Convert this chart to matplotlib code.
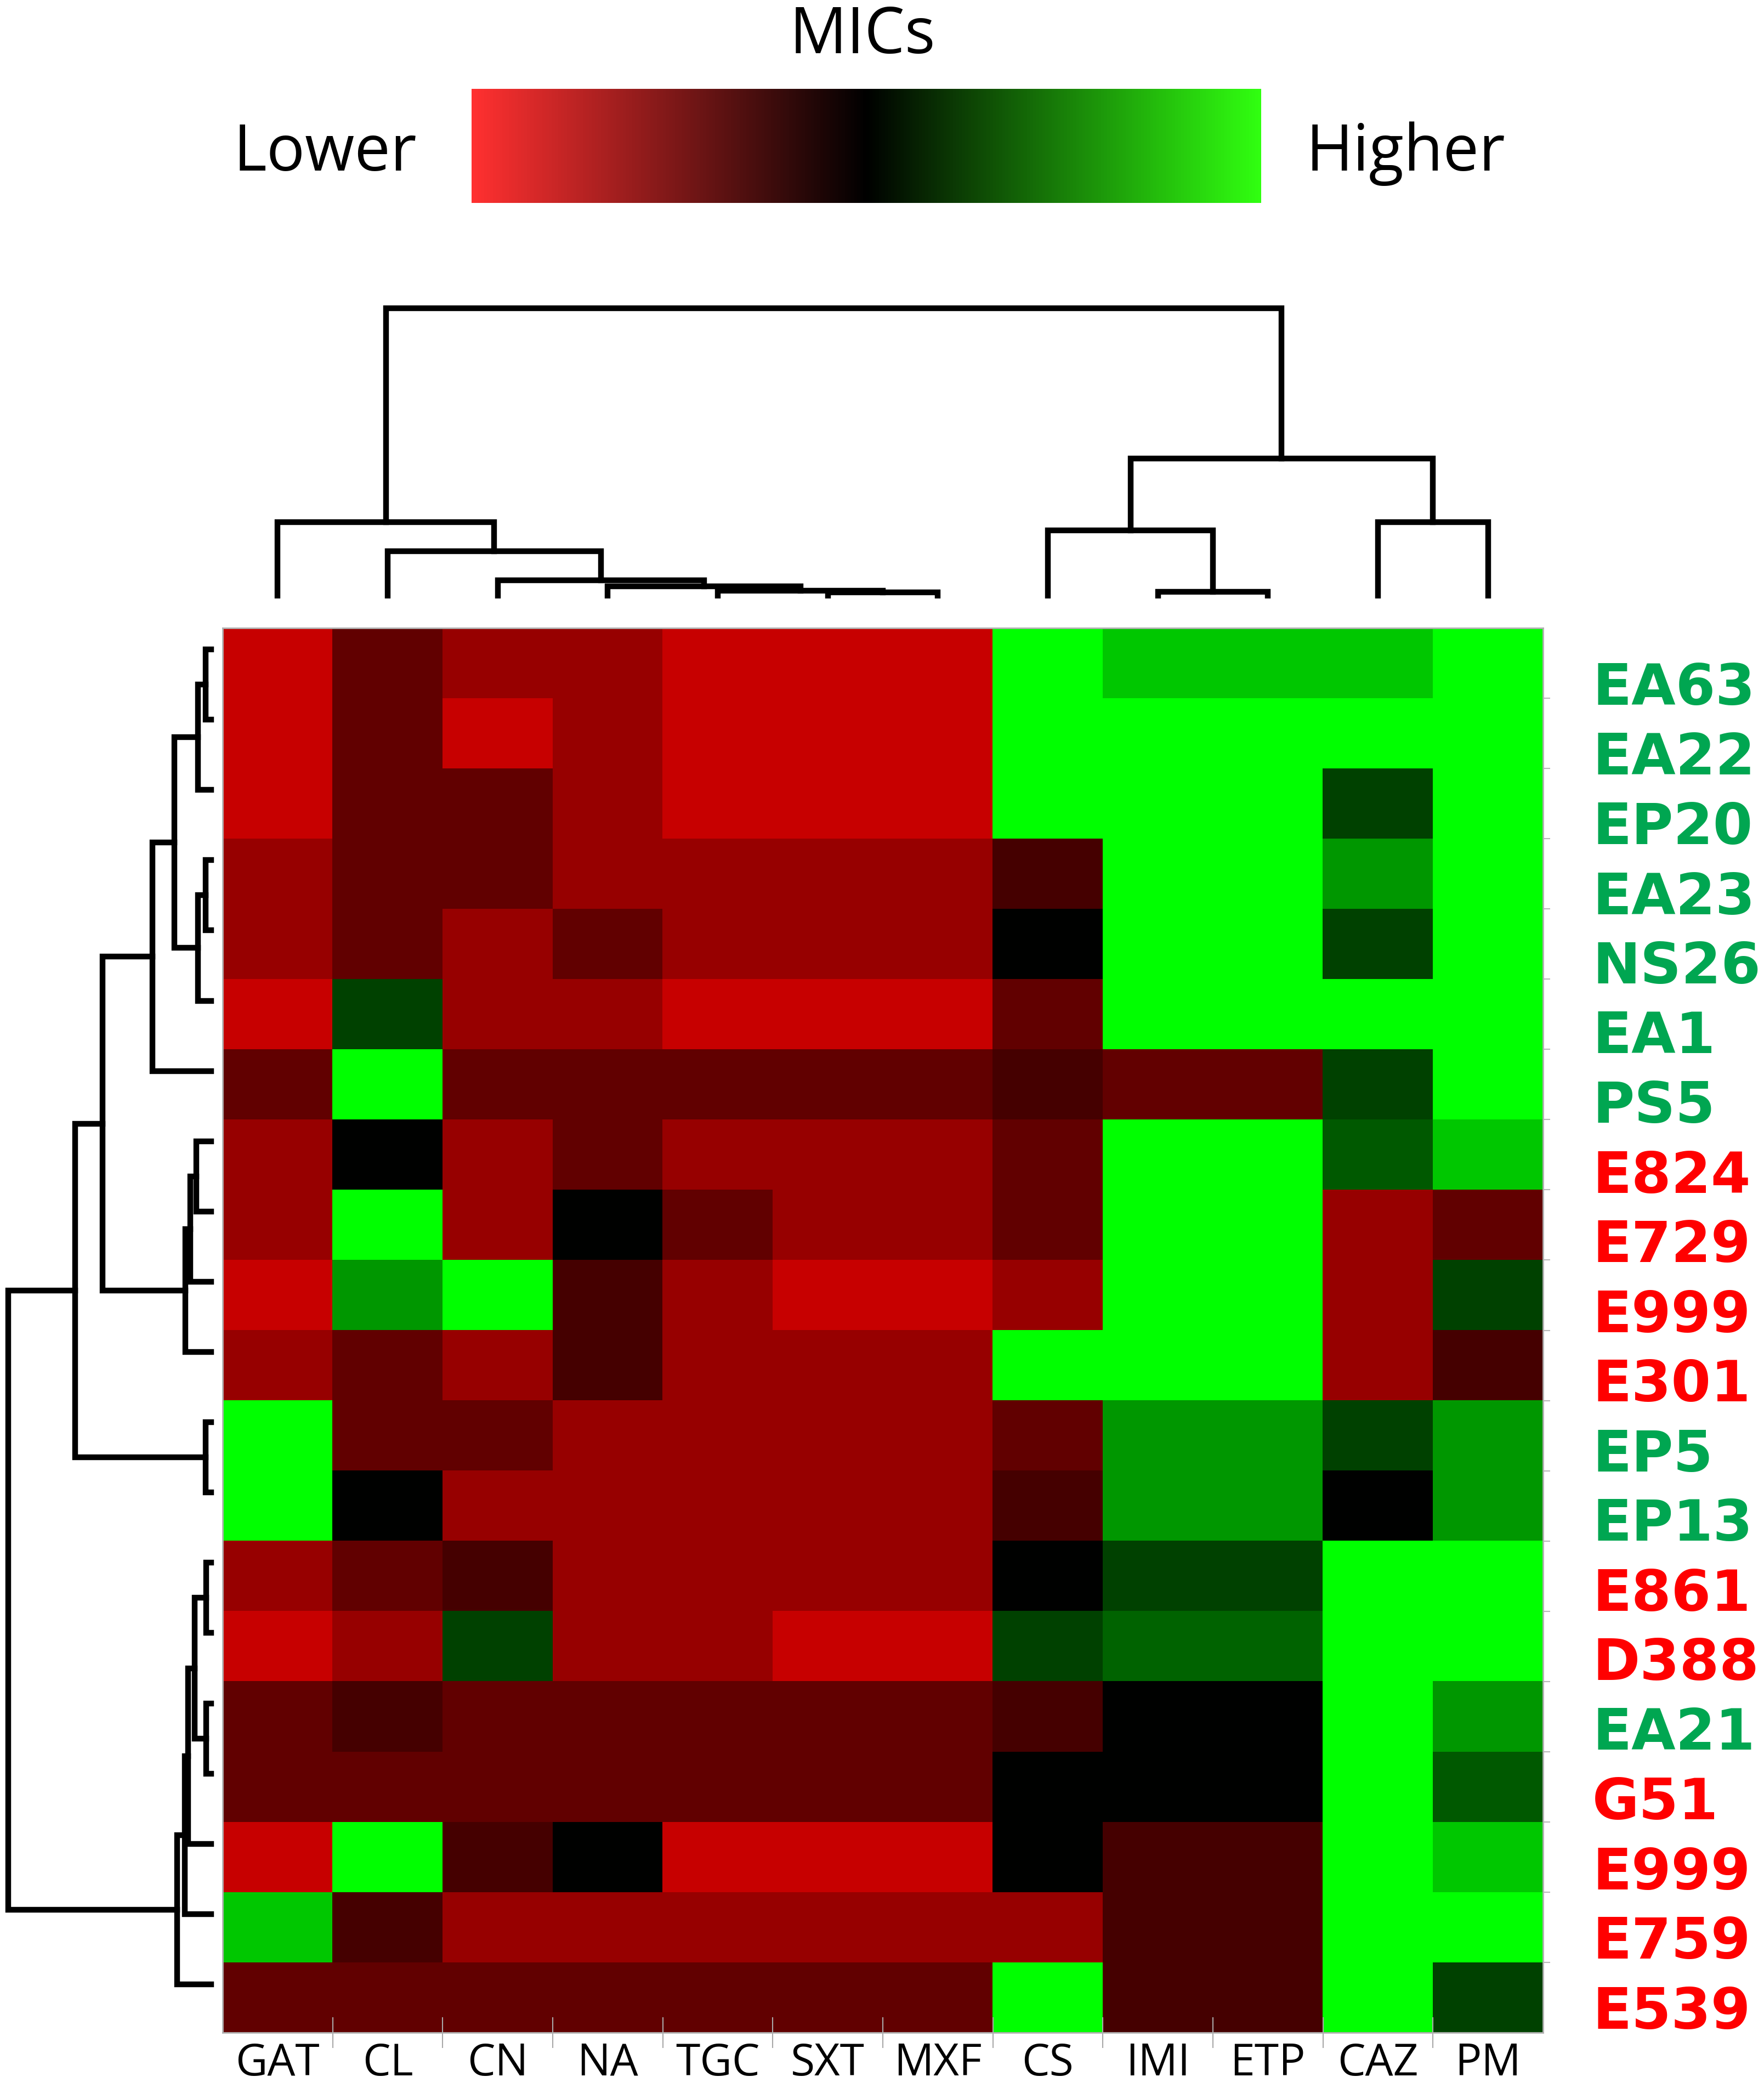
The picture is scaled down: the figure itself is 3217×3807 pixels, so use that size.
import numpy as np
import matplotlib
matplotlib.use('Agg')
import matplotlib.pyplot as plt
from matplotlib.colors import LinearSegmentedColormap, Normalize
from matplotlib.colorbar import ColorbarBase
from matplotlib.transforms import blended_transform_factory

# antibiotics (columns) and isolates (rows), in the clustered order
drugs = ['GAT', 'CL', 'CN', 'NA', 'TGC', 'SXT', 'MXF', 'CS', 'IMI', 'ETP', 'CAZ', 'PM']
isolates = ['EA63', 'EA22', 'EP20', 'EA23', 'NS26', 'EA1', 'PS5', 'E824', 'E729', 'E999',
            'E301', 'EP5', 'EP13', 'E861', 'D388', 'EA21', 'G51', 'E999', 'E759', 'E539']
isolate_colors = ['#00A651'] * 7 + ['#FF0000'] * 4 + ['#00A651'] * 2 + ['#FF0000'] * 2 + \
                 ['#00A651'] + ['#FF0000'] * 4

# relative MIC score: -1 = lowest (red), 0 = middle (black), +1 = highest (green)
mic_scores = np.array([
    [-0.78, -0.38, -0.59, -0.59, -0.78, -0.78, -0.78,  1.00,  0.78,  0.78,  0.78,  1.00],
    [-0.78, -0.38, -0.78, -0.59, -0.78, -0.78, -0.78,  1.00,  1.00,  1.00,  1.00,  1.00],
    [-0.78, -0.38, -0.38, -0.59, -0.78, -0.78, -0.78,  1.00,  1.00,  1.00,  0.25,  1.00],
    [-0.59, -0.38, -0.38, -0.59, -0.59, -0.59, -0.59, -0.27,  1.00,  1.00,  0.59,  1.00],
    [-0.59, -0.38, -0.59, -0.38, -0.59, -0.59, -0.59,  0.00,  1.00,  1.00,  0.25,  1.00],
    [-0.78,  0.25, -0.59, -0.59, -0.78, -0.78, -0.78, -0.38,  1.00,  1.00,  1.00,  1.00],
    [-0.38,  1.00, -0.38, -0.38, -0.38, -0.38, -0.38, -0.27, -0.39, -0.39,  0.25,  1.00],
    [-0.59,  0.00, -0.59, -0.38, -0.59, -0.59, -0.59, -0.38,  1.00,  1.00,  0.35,  0.78],
    [-0.59,  1.00, -0.59,  0.00, -0.38, -0.59, -0.59, -0.38,  1.00,  1.00, -0.59, -0.38],
    [-0.78,  0.59,  1.00, -0.27, -0.59, -0.78, -0.78, -0.59,  1.00,  1.00, -0.59,  0.25],
    [-0.59, -0.38, -0.59, -0.27, -0.59, -0.59, -0.59,  1.00,  1.00,  1.00, -0.59, -0.27],
    [ 1.00, -0.38, -0.38, -0.59, -0.59, -0.59, -0.59, -0.38,  0.59,  0.59,  0.25,  0.59],
    [ 1.00,  0.00, -0.59, -0.59, -0.59, -0.59, -0.59, -0.27,  0.59,  0.59,  0.00,  0.59],
    [-0.59, -0.38, -0.27, -0.59, -0.59, -0.59, -0.59,  0.00,  0.25,  0.25,  1.00,  1.00],
    [-0.78, -0.59,  0.25, -0.59, -0.59, -0.78, -0.78,  0.25,  0.39,  0.39,  1.00,  1.00],
    [-0.38, -0.27, -0.38, -0.38, -0.38, -0.38, -0.38, -0.27,  0.00,  0.00,  1.00,  0.59],
    [-0.38, -0.38, -0.38, -0.38, -0.38, -0.38, -0.38,  0.00,  0.00,  0.00,  1.00,  0.35],
    [-0.78,  1.00, -0.27,  0.00, -0.78, -0.78, -0.78,  0.00, -0.27, -0.27,  1.00,  0.78],
    [ 0.78, -0.27, -0.59, -0.59, -0.59, -0.59, -0.59, -0.59, -0.27, -0.27,  1.00,  1.00],
    [-0.38, -0.38, -0.38, -0.38, -0.38, -0.38, -0.38,  1.00, -0.27, -0.27,  1.00,  0.25],
])

# dendrogram merges: (child a, child b, height); leaves are 0..n-1, new clusters n, n+1, ...
col_merges = [(5, 6, 6), (4, 12, 9), (3, 13, 17), (2, 14, 28), (1, 15, 81), (0, 16, 134),
              (8, 9, 7), (7, 18, 119), (10, 11, 134), (19, 20, 250), (17, 21, 524)]
row_merges = [(0, 1, 10), (20, 2, 24), (3, 4, 10), (22, 5, 24), (21, 23, 67), (24, 6, 107),
              (7, 8, 27), (26, 9, 38), (27, 10, 47), (25, 28, 198), (11, 12, 10), (29, 30, 248),
              (13, 14, 9), (15, 16, 9), (32, 33, 30), (34, 17, 42), (35, 18, 48), (36, 19, 62),
              (31, 37, 370)]

W, H = 3217, 3807
fig = plt.figure(figsize=(W / 100, H / 100), dpi=100)


def px_axes(x0, y0, x1, y1):
    return fig.add_axes([x0 / W, 1 - y1 / H, (x1 - x0) / W, (y1 - y0) / H])


def draw_dendrogram(ax, merges, n, top):
    pos = [i + 0.5 for i in range(n)]
    hgt = [0.0] * n
    for a, b, h in merges:
        p = [pos[a], pos[a], pos[b], pos[b]]
        q = [hgt[a], h, h, hgt[b]]
        if top:
            ax.plot(p, q, color='black', lw=7.5, clip_on=False, solid_joinstyle='miter')
        else:
            ax.plot(q, p, color='black', lw=7.5, clip_on=False, solid_joinstyle='miter')
        pos.append((pos[a] + pos[b]) / 2)
        hgt.append(h)
    ax.axis('off')


# heatmap
heat_cmap = LinearSegmentedColormap.from_list('rkg', ['#FF0000', '#000000', '#00FF00'])
ax = px_axes(406, 1145, 2814, 3706)
ax.imshow(mic_scores, cmap=heat_cmap, vmin=-1, vmax=1, aspect='auto',
          interpolation='nearest', extent=(0, len(drugs), len(isolates), 0))
ax.set_xlim(0, len(drugs))
ax.set_ylim(len(isolates), 0)
ax.set_xticks([])
ax.set_yticks([])
ax.set_xticks(np.arange(1, len(drugs)), minor=True)
ax.set_yticks(np.arange(1, len(isolates)), minor=True)
ax.tick_params(which='minor', axis='x', direction='inout', length=41, width=1.5,
               color='#A8A8A8', bottom=True, labelbottom=False)
ax.tick_params(which='minor', axis='y', direction='out', length=9, width=1.5,
               color='#B8B8B8', left=False, right=True, labelleft=False)
for s in ax.spines.values():
    s.set_color('#B0B0B0')
    s.set_linewidth(2)

# column labels
tr = blended_transform_factory(ax.transData, fig.transFigure)
for j, d in enumerate(drugs):
    ax.text(j + 0.5, 1 - 3784 / H, d, transform=tr, ha='center', va='baseline',
            fontsize=58, family='Open Sans', color='black')

# row labels
lab = px_axes(2904, 1182.5, 3217, 3722.5)
lab.set_xlim(0, 1)
lab.set_ylim(len(isolates), 0)
lab.axis('off')
for i, (name, c) in enumerate(zip(isolates, isolate_colors)):
    lab.text(0, i + 0.5, name, ha='left', va='center_baseline', fontsize=75,
             fontweight='bold', family='DejaVu Sans', color=c)

# dendrograms
top = px_axes(406, 562, 2814, 1086)
top.set_xlim(0, len(drugs))
top.set_ylim(0, 524)
draw_dendrogram(top, col_merges, len(drugs), True)

left = px_axes(15, 1120, 385, 3682)
left.set_xlim(370, 0)
left.set_ylim(len(isolates), 0)
draw_dendrogram(left, row_merges, len(isolates), False)

# colour key
cbar_cmap = LinearSegmentedColormap.from_list('key', ['#FF3030', '#000000', '#30FF10'])
cax = px_axes(860, 162, 2300, 370)
cb = ColorbarBase(cax, cmap=cbar_cmap, norm=Normalize(0, 1), orientation='horizontal')
cb.set_ticks([])
cb.outline.set_visible(False)

fig.text(1573 / W, 1 - 97 / H, 'MICs', ha='center', va='baseline', fontsize=84, family='Open Sans')
fig.text(760 / W, 1 - 311 / H, 'Lower', ha='right', va='baseline', fontsize=84, family='Open Sans')
fig.text(2382 / W, 1 - 311 / H, 'Higher', ha='left', va='baseline', fontsize=84, family='Open Sans')

fig.savefig('out.png', dpi=100, facecolor='white')
